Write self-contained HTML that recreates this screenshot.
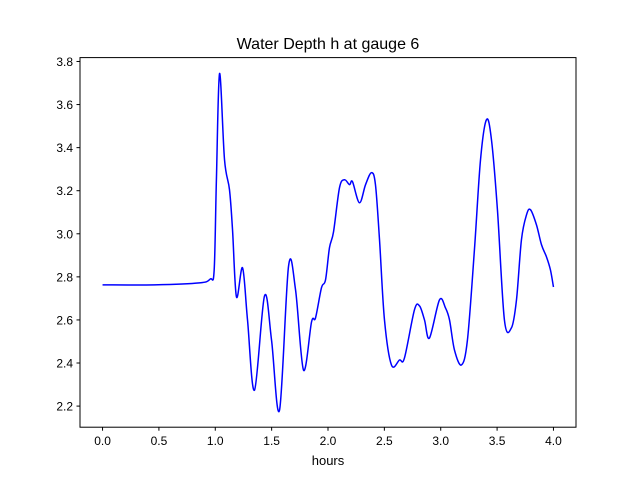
<!DOCTYPE html>
<html><head><meta charset="utf-8"><style>
body{margin:0;background:#fff;}
svg{display:block;font-family:"Liberation Sans","DejaVu Sans",sans-serif;}
</style></head><body>
<svg id="chart" width="640" height="480">
<rect width="640" height="480" fill="#fff"/>
<text x="328" y="49" text-anchor="middle" font-size="16">Water Depth h at gauge 6</text>
<g id="plot"></g>
<rect x="80" y="57.6" width="496" height="369.6" fill="none" stroke="#000" stroke-width="1"/>
<text x="328" y="465" text-anchor="middle" font-size="13">hours</text>
</svg>
<script>
const hours=[0,0.461,0.860,0.955,0.990,1.010,1.038,1.082,1.126,1.153,1.188,1.242,1.286,1.348,1.437,1.499,1.570,1.650,1.712,1.783,1.854,1.889,1.942,1.978,2.013,2.049,2.102,2.146,2.191,2.217,2.279,2.333,2.386,2.421,2.457,2.501,2.563,2.634,2.678,2.767,2.812,2.856,2.900,2.989,3.042,3.078,3.122,3.184,3.237,3.299,3.353,3.406,3.450,3.503,3.565,3.627,3.672,3.716,3.761,3.796,3.849,3.894,3.938,3.973,4.0];
const depth=[2.763,2.763,2.772,2.790,2.830,3.250,3.744,3.344,3.205,3.019,2.707,2.842,2.6,2.274,2.712,2.507,2.181,2.850,2.740,2.367,2.591,2.609,2.749,2.786,2.935,3.009,3.214,3.251,3.228,3.242,3.144,3.228,3.284,3.228,2.972,2.6,2.391,2.414,2.423,2.647,2.665,2.6,2.516,2.693,2.656,2.6,2.460,2.391,2.507,2.926,3.344,3.530,3.437,3.112,2.6,2.563,2.693,2.972,3.088,3.112,3.042,2.949,2.893,2.833,2.753];
const xTicks=[0,0.5,1.0,1.5,2.0,2.5,3.0,3.5,4.0];
const yTicks=[2.2,2.4,2.6,2.8,3.0,3.2,3.4,3.6,3.8];
const X0=80,X1=576,Y0=57.6,Y1=427.2,xmin=-0.2,xmax=4.2,ymin=2.102,ymax=3.818;
const sx=v=>X0+(v-xmin)/(xmax-xmin)*(X1-X0);
const sy=v=>Y1-(v-ymin)/(ymax-ymin)*(Y1-Y0);
const NS='http://www.w3.org/2000/svg';
const g=document.getElementById('plot');
function mk(t,a){const e=document.createElementNS(NS,t);for(const k in a)e.setAttribute(k,a[k]);g.appendChild(e);return e;}
xTicks.forEach(t=>{
 const l=mk('line',{x1:sx(t),x2:sx(t),y1:Y1,y2:Y1+3.5,stroke:'#000'});
 
 
 const tx=mk('text',{x:sx(t),y:Y1+18,'text-anchor':'middle','font-size':'12'});
 tx.textContent=t.toFixed(1);
 
 
});
yTicks.forEach(t=>{
 const l=mk('line',{x1:X0-3.5,x2:X0,y1:sy(t),y2:sy(t),stroke:'#000'});
 
 
 const tx=mk('text',{x:X0-7,y:sy(t)+4.5,'text-anchor':'end','font-size':'12'});
 tx.textContent=t.toFixed(1);
 
 
});
const P=hours.map((h,i)=>[sx(h),sy(depth[i])]);
let d='M'+P[0][0]+','+P[0][1];
for(let i=0;i<P.length-1;i++){
 const p0=P[Math.max(0,i-1)],p1=P[i],p2=P[i+1],p3=P[Math.min(P.length-1,i+2)];
 const c1=[p1[0]+(p2[0]-p0[0])/6,p1[1]+(p2[1]-p0[1])/6];
 const c2=[p2[0]-(p3[0]-p1[0])/6,p2[1]-(p3[1]-p1[1])/6];
 d+='C'+c1+' '+c2+' '+p2;
}
const line=mk('path',{d:d,fill:'none',stroke:'#0000ff','stroke-width':'1.5'});


</script>
</body></html>
